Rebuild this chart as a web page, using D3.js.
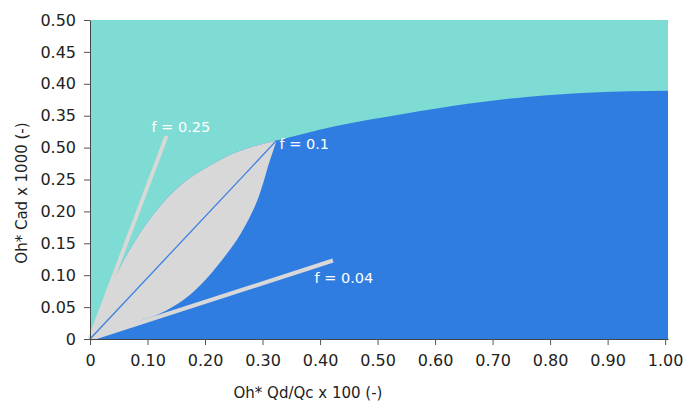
<!DOCTYPE html>
<html>
<head>
<meta charset="utf-8">
<script src="https://cdn.jsdelivr.net/npm/d3@7"></script>
<style>
  body { margin: 0; background: #fff; }
  svg { display: block; font-family: "DejaVu Sans", sans-serif; }
</style>
</head>
<body>
<svg id="chart" width="683" height="403"></svg>
<script>
// x ticks and labels
var xTicks = [0, 0.1, 0.2, 0.3, 0.4, 0.5, 0.6, 0.7, 0.8, 0.9, 1.0];
var xTickLabels = ["0", "0.10", "0.20", "0.30", "0.40", "0.50", "0.60", "0.70", "0.80", "0.90", "1.00"];
// y ticks (the 0.30 tick reads "0.50" in the original)
var yTicks = [0, 0.05, 0.1, 0.15, 0.2, 0.25, 0.3, 0.35, 0.4, 0.45, 0.5];
var yTickLabels = ["0", "0.05", "0.10", "0.15", "0.20", "0.25", "0.50", "0.35", "0.40", "0.45", "0.50"];

// upper boundary : teal above, gray/blue below
var upperEdge = [[0,0],[0.01,0.027],[0.025,0.061],[0.049,0.107],[0.075,0.149],[0.10,0.183],
  [0.1318,0.2187],[0.16,0.243],[0.19,0.262],[0.2195,0.2775],[0.25,0.291],[0.285,0.302],
  [0.3245,0.3113],[0.37,0.3215],[0.428,0.334],[0.49,0.3443],[0.544,0.3527],[0.60,0.3608],
  [0.66,0.3690],[0.71,0.3748],[0.759,0.3795],[0.82,0.3838],[0.874,0.3864],[0.94,0.3882],
  [1.005,0.3890]];
// lower edge of the gray lens (gray above, blue below)
var lowerEdge = [[0,0],[0.045,0.0145],[0.088,0.0285],[0.12,0.039],[0.147,0.052],[0.175,0.07],
  [0.204,0.096],[0.235,0.13],[0.262,0.165],[0.28,0.195],[0.293,0.222],[0.303,0.25],
  [0.311,0.275],[0.318,0.294],[0.3245,0.3113]];
var apexX = 0.3245;

// reference lines
var fLabels = ["f = 0.25", "f = 0.1", "f = 0.04"];
var fEndX = [0.133, 0.3245, 0.4225];
var fEndY = [0.318, 0.3113, 0.123];

var margin = {top: 20, left: 90};
var width = 578, height = 319;

var svg = d3.select("#chart");
var g = svg.append("g").attr("transform", "translate(" + margin.left + "," + margin.top + ")");

var x = d3.scaleLinear().domain([0, 1.005]).range([0, width]);
var y = d3.scaleLinear().domain([0, 0.5]).range([height, 0]);

// teal background
g.append("rect").attr("x", 0).attr("y", 0).attr("width", width).attr("height", height)
  .attr("fill", "#7edcd4");

// blue area under the upper boundary
var area = d3.area().x(function(d){ return x(d[0]); }).y0(y(0)).y1(function(d){ return y(d[1]); })
  .curve(d3.curveMonotoneX);
g.append("path").datum(upperEdge).attr("d", area).attr("fill", "#2f7de1");

// gray lens
var line = d3.line().x(function(d){ return x(d[0]); }).y(function(d){ return y(d[1]); })
  .curve(d3.curveMonotoneX);
var upperPart = upperEdge.filter(function(d){ return d[0] <= apexX; });
var lowerRev = lowerEdge.slice().reverse();
g.append("path")
  .attr("d", line(upperPart) + "L" + line(lowerRev).slice(1) + "Z")
  .attr("fill", "#d9d8d8");

// f lines
g.append("line").attr("x1", x(0)).attr("y1", y(0)).attr("x2", x(fEndX[0])).attr("y2", y(fEndY[0]))
  .attr("stroke", "#d9d8d8").attr("stroke-width", 4);
g.append("line").attr("x1", x(0)).attr("y1", y(0)).attr("x2", x(fEndX[2])).attr("y2", y(fEndY[2]))
  .attr("stroke", "#d9d8d8").attr("stroke-width", 4);
g.append("line").attr("x1", x(0)).attr("y1", y(0)).attr("x2", x(fEndX[1])).attr("y2", y(fEndY[1]))
  .attr("stroke", "#3a80e2").attr("stroke-width", 1.3);

// f labels
var labelPos = [[151.5, 132], [279.5, 149], [314.5, 282.5]];
labelPos.forEach(function(p, i) {
  svg.append("text").attr("x", p[0]).attr("y", p[1]).attr("fill", "#fff")
    .attr("font-size", 14.5).text(fLabels[i]);
});

// axes
var xAxis = g.append("g").attr("transform", "translate(0," + height + ")")
  .call(d3.axisBottom(x).tickValues(xTicks).tickFormat(function(d, i){ return xTickLabels[i]; })
    .tickSize(6).tickSizeOuter(0).tickPadding(10));
var yAxis = g.append("g")
  .call(d3.axisLeft(y).tickValues(yTicks).tickFormat(function(d, i){ return yTickLabels[i]; })
    .tickSize(6).tickSizeOuter(0).tickPadding(8));
[xAxis, yAxis].forEach(function(a) {
  a.select(".domain").attr("stroke", "#444");
  a.selectAll(".tick line").attr("stroke", "#555");
  a.selectAll(".tick text").attr("fill", "#222").attr("font-size", 16)
    .attr("font-family", "DejaVu Sans, sans-serif");
});

// axis titles
svg.append("text").attr("x", 308).attr("y", 398).attr("text-anchor", "middle")
  .attr("font-size", 15).attr("fill", "#222").text("Oh* Qd/Qc x 100 (-)");
svg.append("text").attr("transform", "translate(27,193) rotate(-90)").attr("text-anchor", "middle")
  .attr("font-size", 15).attr("fill", "#222").text("Oh* Cad x 1000 (-)");
</script>
</body>
</html>
